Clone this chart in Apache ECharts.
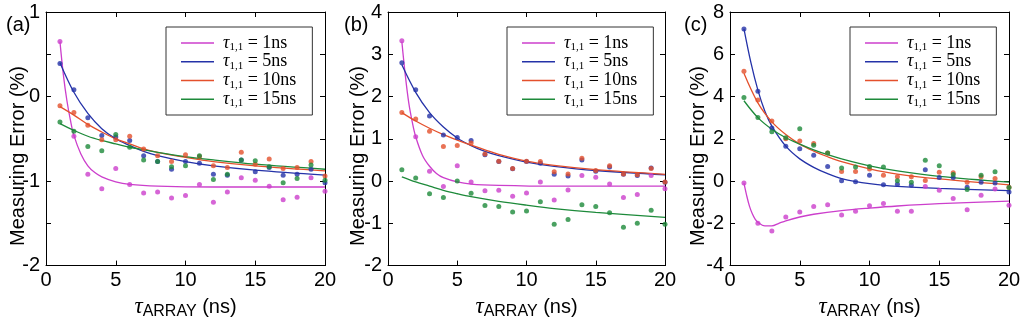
<!DOCTYPE html>
<html>
<head>
<meta charset="utf-8">
<script src="https://cdn.jsdelivr.net/npm/echarts@6/dist/echarts.min.js"></script>
<style>
html,body{margin:0;padding:0;background:#fff;}
#c{width:1024px;height:325px;}
</style>
</head>
<body>
<div id="c"></div>
<script>
// ---------- data ----------
const xs = [1,2,3,4,5,6,7,8,9,10,11,12,13,14,15,16,17,18,19,20];
const names = ['1ns','5ns','10ns','15ns'];
const panelLabels = ['(a)','(b)','(c)'];
const yAxisTitle = 'Measuring Error (%)';

// Panel (a) measured points
const aMag    = [0.65,-0.47,-0.92,-1.09,-0.85,-1.04,-1.14,-1.13,-1.20,-1.17,-1.04,-1.25,-1.13,-0.96,-0.99,-1.06,-1.22,-1.19,-0.96,-1.12];
const aBlue   = [0.39,0.08,-0.25,-0.46,-0.48,-0.52,-0.70,-0.77,-0.86,-0.77,-0.79,-0.92,-0.93,-0.75,-0.89,-0.84,-0.93,-0.92,-0.86,-1.02];
const aOrange = [-0.11,-0.19,-0.34,-0.51,-0.51,-0.47,-0.62,-0.70,-0.77,-0.69,-0.71,-0.82,-0.84,-0.66,-0.80,-0.74,-0.85,-0.84,-0.77,-0.94];
const aGreen  = [-0.30,-0.41,-0.59,-0.64,-0.45,-0.60,-0.75,-0.77,-0.83,-0.82,-0.70,-0.98,-0.92,-0.75,-0.76,-0.83,-1.02,-0.97,-0.81,-0.99];
// Panel (a) fitted curves [x, y]
const aMagFit    = [[1,0.65],[1.25,0.25],[1.5,-0.05],[1.75,-0.28],[2,-0.46],[2.5,-0.68],[3,-0.82],[3.5,-0.9],[4,-0.95],[5,-1.01],[6,-1.04],[8,-1.06],[12,-1.07],[20,-1.07]];
const aBlueFit   = [[1,0.40],[2,0.05],[3,-0.20],[4,-0.38],[5,-0.50],[6,-0.58],[7,-0.65],[8,-0.70],[10,-0.77],[12,-0.82],[15,-0.87],[20,-0.93]];
const aOrangeFit = [[1,-0.12],[2,-0.22],[3,-0.33],[4,-0.42],[5,-0.50],[6,-0.56],[7,-0.62],[8,-0.66],[10,-0.72],[12,-0.77],[15,-0.82],[20,-0.88]];
const aGreenFit  = [[1,-0.32],[2,-0.40],[3,-0.47],[4,-0.52],[5,-0.56],[6,-0.60],[7,-0.63],[8,-0.66],[10,-0.71],[12,-0.75],[15,-0.80],[20,-0.86]];

// Panel (b) measured points
const bMag    = [3.32,1.05,0.23,-0.13,0.36,-0.02,-0.23,-0.22,-0.36,-0.28,-0.02,-0.45,-0.21,0.13,0.09,-0.07,-0.39,-0.32,0.13,-0.18];
const bBlue   = [2.80,2.16,1.54,1.09,1.03,0.96,0.62,0.46,0.29,0.46,0.42,0.16,0.12,0.50,0.23,0.33,0.16,0.13,0.31,-0.03];
const bOrange = [1.62,1.47,1.18,0.82,0.84,0.90,0.64,0.47,0.30,0.47,0.46,0.22,0.17,0.54,0.25,0.36,0.17,0.15,0.30,-0.02];
const bGreen  = [0.27,0.07,-0.30,-0.39,0.00,-0.29,-0.58,-0.60,-0.73,-0.71,-0.49,-1.02,-0.91,-0.56,-0.60,-0.75,-1.09,-1.00,-0.69,-1.02];
const bMagFit    = [[1,3.3],[1.25,2.5],[1.5,1.85],[1.75,1.4],[2,1.05],[2.5,0.6],[3,0.35],[3.5,0.18],[4,0.08],[5,-0.02],[6,-0.07],[8,-0.10],[12,-0.12],[20,-0.12]];
const bBlueFit   = [[1,2.75],[2,2.1],[3,1.62],[4,1.28],[5,1.02],[6,0.84],[7,0.70],[8,0.60],[10,0.45],[12,0.35],[15,0.25],[20,0.15]];
const bOrangeFit = [[1,1.62],[2,1.42],[3,1.25],[4,1.10],[5,0.97],[6,0.85],[7,0.74],[8,0.63],[10,0.47],[12,0.37],[15,0.27],[20,0.16]];
const bGreenFit  = [[1,0.10],[2,-0.02],[3,-0.12],[4,-0.22],[5,-0.30],[6,-0.37],[8,-0.48],[10,-0.57],[12,-0.65],[15,-0.74],[20,-0.86]];

// Panel (c) measured points
const cMag    = [-0.09,-2.00,-2.36,-1.70,-1.46,-1.20,-1.12,-1.61,-1.43,-1.17,-1.06,-1.43,-1.43,-0.26,-0.44,-0.82,-1.36,-0.67,-0.37,-1.15];
const cBlue   = [7.20,4.25,2.51,1.65,1.53,1.22,0.69,0.01,-0.03,0.27,-0.17,-0.15,-0.20,0.54,0.17,0.17,-0.29,-0.06,-0.09,-0.52];
const cOrange = [5.20,3.84,2.84,2.00,1.90,1.78,1.33,0.45,0.45,0.57,0.27,0.20,0.20,0.03,0.42,0.39,-0.06,0.21,0.12,-0.29];
const cGreen  = [3.95,3.01,2.33,2.05,2.48,1.70,1.33,0.62,0.66,0.69,0.66,0.01,-0.06,0.99,0.72,0.31,-0.40,0.27,0.44,-0.31];
const cMagFit    = [[1,-0.1],[1.2,-0.7],[1.4,-1.2],[1.6,-1.55],[1.8,-1.8],[2,-1.95],[2.5,-2.12],[3,-2.12],[3.5,-2.0],[4,-1.88],[5,-1.7],[6,-1.57],[8,-1.4],[10,-1.28],[12,-1.18],[15,-1.07],[20,-0.95]];
const cBlueFit   = [[1,7.2],[1.5,5.6],[2,4.3],[2.5,3.3],[3,2.6],[4,1.65],[5,1.05],[6,0.65],[7,0.35],[8,0.12],[10,-0.12],[12,-0.25],[15,-0.35],[20,-0.45]];
const cOrangeFit = [[1,5.1],[2,3.7],[3,2.8],[4,2.2],[5,1.75],[6,1.42],[7,1.15],[8,0.92],[10,0.58],[12,0.33],[15,0.10],[20,-0.18]];
const cGreenFit  = [[1,3.8],[2,3.0],[3,2.45],[4,2.05],[5,1.75],[6,1.48],[7,1.25],[8,1.05],[10,0.72],[12,0.48],[15,0.22],[20,-0.05]];

// axis ranges / ticks
const xRange = {min:0, max:20, interval:5};
const yRanges = [{min:-2,max:1,interval:0.5},{min:-2,max:4,interval:1},{min:-4,max:8,interval:2}];

// ---------- styling / layout ----------
const colors = ['#cc3fcc','#2432a8','#e4502c','#1d8a3a'];
const grids = [
  {left:46, width:279, top:12, height:265},
  {left:388, width:277, top:12, height:265},
  {left:730, width:279, top:12, height:265}
];
const legendPos = [{left:166},{left:507},{left:850}];
const panelLabelX = [6, 344, 684];
const yTitleX = [18, 358, 698];
const yTitleY = 156;
const sansFont = 'Liberation Sans, Arial, sans-serif';
const serifFont = 'Liberation Serif, Times New Roman, serif';

const points = [[aMag,aBlue,aOrange,aGreen],[bMag,bBlue,bOrange,bGreen],[cMag,cBlue,cOrange,cGreen]];
const fits = [[aMagFit,aBlueFit,aOrangeFit,aGreenFit],[bMagFit,bBlueFit,bOrangeFit,bGreenFit],[cMagFit,cBlueFit,cOrangeFit,cGreenFit]];

const xAxes = [], yAxes = [], series = [], legends = [], graphics = [];
const tickBase = {inside:true, length:5, lineStyle:{color:'#000', width:1}};
const lineBase = {show:true, onZero:false, lineStyle:{color:'#000', width:1}};

for (let p = 0; p < 3; p++) {
  xAxes.push({
    gridIndex:p, type:'value', position:'bottom', min:xRange.min, max:xRange.max, interval:xRange.interval,
    axisLine:lineBase, axisTick:tickBase, splitLine:{show:false},
    axisLabel:{color:'#000', fontSize:20, fontFamily:sansFont, margin:5},
    name:'{t|τ}{s|ARRAY}{n| (ns)}', nameLocation:'middle', nameGap:8,
    nameTextStyle:{
      rich:{
        t:{fontFamily:serifFont, fontStyle:'italic', fontSize:23, color:'#000', lineHeight:26, verticalAlign:'middle'},
        s:{fontFamily:sansFont, fontSize:16, color:'#000', lineHeight:16, verticalAlign:'bottom'},
        n:{fontFamily:sansFont, fontSize:20, color:'#000', lineHeight:26, verticalAlign:'middle'}
      }
    }
  });
  xAxes.push({
    gridIndex:p, type:'value', position:'top', min:xRange.min, max:xRange.max, interval:xRange.interval,
    axisLine:lineBase, axisTick:tickBase, splitLine:{show:false}, axisLabel:{show:false}
  });
  const yr = yRanges[p];
  yAxes.push({
    gridIndex:p, type:'value', position:'left', min:yr.min, max:yr.max, interval:yr.interval,
    axisLine:lineBase, axisTick:tickBase, splitLine:{show:false},
    axisLabel:{color:'#000', fontSize:20, fontFamily:sansFont, margin:6,
      formatter: v => Number.isInteger(v) ? String(v) : ''}
  });
  yAxes.push({
    gridIndex:p, type:'value', position:'right', min:yr.min, max:yr.max, interval:yr.interval,
    axisLine:lineBase, axisTick:tickBase, splitLine:{show:false}, axisLabel:{show:false}
  });

  for (let s = 0; s < 4; s++) {
    series.push({
      type:'line', name:names[s], xAxisIndex:2*p, yAxisIndex:2*p,
      data:fits[p][s], smooth:0.35, showSymbol:false, symbol:'none',
      lineStyle:{color:colors[s], width:1.3}, itemStyle:{color:colors[s]},
      z:2, silent:true
    });
    series.push({
      type:'scatter', name:names[s] + ' data', xAxisIndex:2*p, yAxisIndex:2*p,
      data:xs.map((x,i) => [x, points[p][s][i]]),
      symbol:'circle', symbolSize:5, itemStyle:{color:colors[s]}, z:3, silent:true
    });
  }

  legends.push({
    orient:'vertical', left:legendPos[p].left, top:27,
    data:names.map(n => ({name:n, icon:'rect'})),
    itemWidth:33, itemHeight:1.5, itemGap:0,
    backgroundColor:'#fff', borderColor:'#333', borderWidth:1,
    padding:[7,16,6,15], selectedMode:false,
    formatter: n => '{t|τ}{s|1,1}{n| = ' + n + '}',
    textStyle:{
      padding:[0,0,0,4],
      rich:{
        t:{fontFamily:serifFont, fontStyle:'italic', fontSize:18, color:'#000', lineHeight:19.5, verticalAlign:'middle'},
        s:{fontFamily:serifFont, fontSize:11, color:'#000', lineHeight:11, verticalAlign:'bottom'},
        n:{fontFamily:serifFont, fontSize:18, color:'#000', lineHeight:19.5, verticalAlign:'middle'}
      }
    }
  });

  graphics.push({
    type:'text', left:panelLabelX[p], top:15,
    style:{text:panelLabels[p], fontSize:20, fontFamily:sansFont, fill:'#000'}
  });
  graphics.push({
    type:'text', x:yTitleX[p], y:yTitleY, rotation:Math.PI/2,
    style:{text:yAxisTitle, fontSize:20, fontFamily:sansFont, fill:'#000', align:'center', verticalAlign:'middle'}
  });
}

const chart = echarts.init(document.getElementById('c'), null, {renderer:'canvas'});
chart.setOption({
  animation:false,
  backgroundColor:'#fff',
  grid:grids,
  xAxis:xAxes,
  yAxis:yAxes,
  legend:legends,
  series:series,
  graphic:graphics
});
</script>
</body>
</html>
